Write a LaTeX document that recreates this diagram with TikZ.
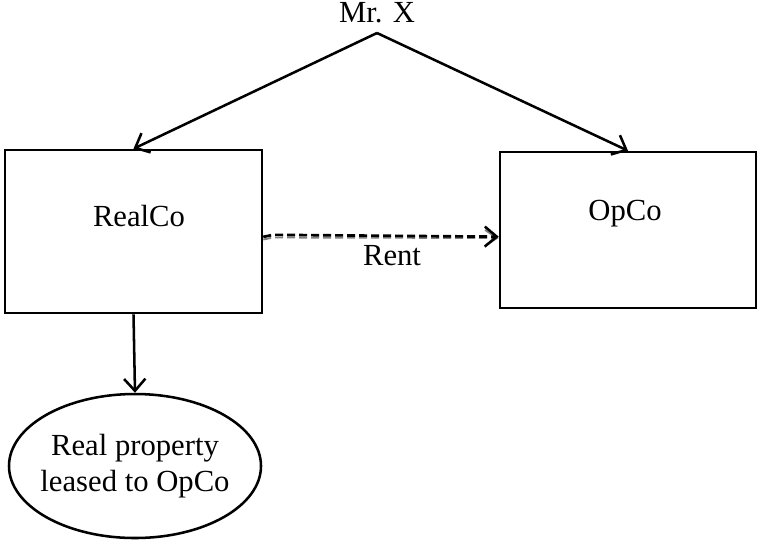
\documentclass[tikz,border=0pt]{standalone}
\usepackage{fontspec}
\setmainfont{Liberation Serif}
\usetikzlibrary{arrows.meta,shapes.geometric}
\begin{document}
\begin{tikzpicture}[x=0.75pt,y=-0.75pt,
  line width=1.9pt,
  tip/.style={-{Straight Barb[length=9pt,width=16pt,line width=1.9pt]}},
  entity/.style={draw,rectangle,inner sep=0pt},
  txt/.style={font=\fontsize{23}{26.5}\selectfont,inner sep=0pt,align=center},
]
\useasboundingbox (0,0) rectangle (762,540);

% people and companies
\node[txt] (mrx) at (377,13) {Mr. X};
\coordinate (apex) at (377,33);
\node[entity,minimum width=192.75pt,minimum height=122.25pt] (realco) at (133.5,231.5) {};
\node[entity,minimum width=192pt,minimum height=117pt] (opco) at (628,230) {};
\node[txt] (realcoT) at (139,216) {RealCo};
\node[txt] (opcoT) at (625,214) {OpCo};
\node[draw,ellipse,line width=1.9pt,minimum width=189pt,minimum height=108pt,inner sep=0pt] (prop) at (135,466) {};
\node[txt] (propT) at (135,466) {Real property\\leased to OpCo};

% ownership
\draw[tip] (apex) -- (realco.north);
\draw[tip] (apex) -- (opco.north);
\draw[tip] (realco.south) -- (prop.north);

% rent payment
\draw[gray,line width=1.4pt,dash pattern=on 6pt off 3pt,-{Straight Barb[length=9pt,width=12pt]}]
  ([yshift=-6pt]realco.east) -- ++(10,-2) -- ([yshift=-6pt]opco.west);
\draw[line width=2pt,dash pattern=on 6pt off 3pt,-{Straight Barb[length=9pt,width=15pt,line width=1.9pt]}]
  ([yshift=-4pt]realco.east) -- ++(10,-2) -- ([yshift=-5pt]opco.west);
\node[txt] (rent) at (392,256) {Rent};
\end{tikzpicture}
\end{document}
